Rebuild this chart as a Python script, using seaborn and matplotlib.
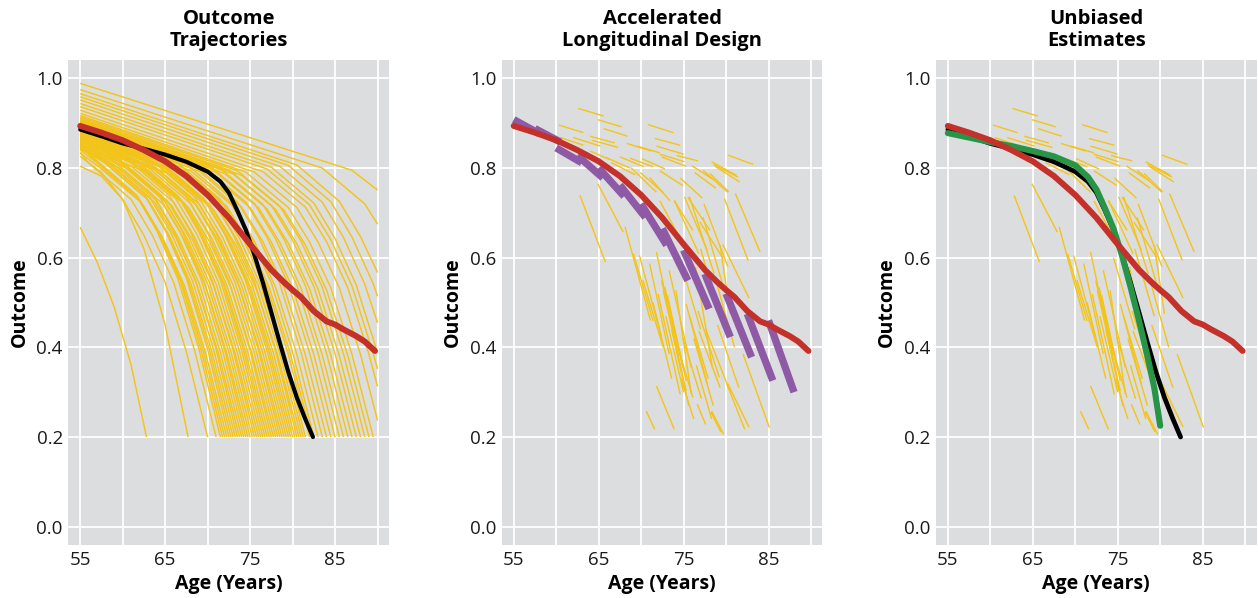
import numpy as np
import pandas as pd
import matplotlib
matplotlib.use("Agg")
import matplotlib.pyplot as plt
import seaborn as sns
from matplotlib.ticker import FixedLocator, FixedFormatter

# ---------------- data ----------------
panel_titles = ["Outcome\nTrajectories", "Accelerated\nLongitudinal Design", "Unbiased\nEstimates"]
x_label = "Age (Years)"
y_label = "Outcome"
x_tick_values = [55, 65, 75, 85]
x_minor_values = [60, 70, 80, 90]
y_tick_values = [0.0, 0.2, 0.4, 0.6, 0.8, 1.0]

# individual outcome trajectories (panel 1): (age, outcome) points per person
trajectories = [
    [(55, .668), (57, .590), (59, .490), (61, .360), (62.8, .2)],
    [(55, .804), (57.5, .782), (60, .730), (62.5, .620), (65, .450), (67.7, .2)],
    [(55, .826), (57.5, .790), (60, .730), (62.5, .650), (65, .545), (67.5, .390), (70, .2)],
    [(55, .835), (56, .811), (61, .730), (63.5, .650), (66, .545), (68.5, .391), (71, .2)],
    [(55, .852), (56.5, .824), (61.5, .742), (64, .661), (66.5, .553), (69, .395), (71.5, .2)],
    [(55, .847), (56.75, .818), (61.75, .737), (64.25, .656), (66.75, .550), (69.25, .393), (71.75, .2)],
    [(55, .840), (57, .811), (62, .729), (64.5, .650), (67, .544), (69.5, .391), (72, .2)],
    [(55, .833), (57.25, .802), (62.25, .722), (64.75, .643), (67.25, .539), (69.75, .388), (72.25, .2)],
    [(55, .858), (57.5, .825), (62.5, .743), (65, .662), (67.5, .554), (70, .396), (72.5, .2)],
    [(55, .850), (57.75, .815), (62.75, .734), (65.25, .654), (67.75, .548), (70.25, .392), (72.75, .2)],
    [(55, .845), (58, .810), (63, .729), (65.5, .649), (68, .544), (70.5, .390), (73, .2)],
    [(55, .851), (58.25, .814), (63.25, .733), (65.75, .653), (68.25, .547), (70.75, .392), (73.25, .2)],
    [(55, .862), (58.5, .823), (63.5, .741), (66, .660), (68.5, .553), (71, .395), (73.5, .2)],
    [(55, .843), (58.75, .804), (63.75, .724), (66.25, .645), (68.75, .540), (71.25, .388), (73.75, .2)],
    [(55, .848), (59, .807), (64, .727), (66.5, .647), (69, .543), (71.5, .389), (74, .2)],
    [(55, .864), (59.25, .821), (64.25, .739), (66.75, .658), (69.25, .551), (71.75, .394), (74.25, .2)],
    [(55, .866), (59.5, .822), (64.5, .740), (67, .659), (69.5, .552), (72, .395), (74.5, .2)],
    [(55, .844), (59.75, .799), (64.75, .720), (67.25, .641), (69.75, .538), (72.25, .387), (74.75, .2)],
    [(55, .852), (60, .806), (65, .725), (67.5, .646), (70, .542), (72.5, .389), (75, .2)],
    [(55, .855), (60.25, .808), (65.25, .727), (67.75, .648), (70.25, .543), (72.75, .390), (75.25, .2)],
    [(55, .870), (60.5, .820), (65.5, .739), (68, .658), (70.5, .551), (73, .394), (75.5, .2)],
    [(55, .847), (60.75, .797), (65.75, .717), (68.25, .639), (70.75, .536), (73.25, .386), (75.75, .2)],
    [(55, .856), (61, .804), (66, .724), (68.5, .645), (71, .541), (73.5, .388), (76, .2)],
    [(55, .866), (61.25, .813), (66.25, .732), (68.75, .652), (71.25, .546), (73.75, .391), (76.25, .2)],
    [(55, .874), (61.5, .819), (66.5, .738), (69, .657), (71.5, .550), (74, .394), (76.5, .2)],
    [(55, .870), (61.75, .814), (66.75, .732), (69.25, .652), (71.75, .547), (74.25, .392), (76.75, .2)],
    [(55, .860), (62, .803), (67, .723), (69.5, .644), (72, .540), (74.5, .388), (77, .2)],
    [(55, .860), (62.25, .802), (67.25, .722), (69.75, .643), (72.25, .539), (74.75, .388), (77.25, .2)],
    [(55, .878), (62.5, .817), (67.5, .736), (70, .655), (72.5, .549), (75, .393), (77.5, .2)],
    [(55, .852), (62.75, .791), (67.75, .712), (70.25, .635), (72.75, .533), (75.25, .384), (77.75, .2)],
    [(55, .864), (63, .801), (68, .721), (70.5, .643), (73, .539), (75.5, .387), (78, .2)],
    [(55, .874), (63.25, .810), (68.25, .729), (70.75, .649), (73.25, .544), (75.75, .390), (78.25, .2)],
    [(55, .882), (63.5, .816), (68.5, .735), (71, .655), (73.5, .548), (76, .393), (78.5, .2)],
    [(55, .863), (63.75, .796), (68.75, .716), (71.25, .638), (73.75, .535), (76.25, .385), (78.75, .2)],
    [(55, .868), (64, .800), (69, .720), (71.5, .642), (74, .538), (76.5, .387), (79, .2)],
    [(55, .875), (64.25, .805), (69.25, .725), (71.75, .646), (74.25, .541), (76.75, .389), (79.25, .2)],
    [(55, .886), (64.5, .814), (69.5, .733), (72, .653), (74.5, .547), (77, .392), (79.5, .2)],
    [(55, .878), (64.75, .806), (69.75, .725), (72.25, .646), (74.75, .542), (77.25, .389), (79.75, .2)],
    [(55, .872), (65, .798), (70, .719), (72.5, .641), (75, .537), (77.5, .386), (80, .2)],
    [(55, .874), (65.25, .799), (70.25, .719), (72.75, .641), (75.25, .538), (77.75, .387), (80.25, .2)],
    [(55, .890), (65.5, .814), (70.5, .732), (73, .652), (75.5, .547), (78, .392), (80.5, .2)],
    [(55, .862), (65.75, .785), (70.75, .706), (73.25, .630), (75.75, .529), (78.25, .382), (80.75, .2)],
    [(55, .876), (66, .797), (71, .717), (73.5, .639), (76, .536), (78.5, .386), (81, .2)],
    [(55, .882), (66.25, .802), (71.25, .722), (73.75, .643), (76.25, .539), (78.75, .388), (81.25, .2)],
    [(55, .893), (66.5, .811), (71.5, .730), (74, .650), (76.5, .545), (79, .391), (81.5, .2)],
    [(55, .880), (67, .796), (72, .716), (74.5, .638), (77, .535), (79.5, .385), (82, .2)],
    [(55, .880), (67.25, .794), (72.25, .715), (74.75, .637), (77.25, .534), (79.75, .385), (82.25, .2)],
    [(55, .896), (67.5, .809), (72.5, .728), (75, .649), (77.5, .544), (80, .390), (82.5, .2)],
    [(55, .884), (68, .794), (73, .715), (75.5, .637), (78, .534), (80.5, .385), (83, .2)],
    [(55, .899), (68.5, .806), (73.5, .725), (76, .646), (78.5, .542), (81, .389), (83.5, .2)],
    [(55, .888), (69, .793), (74, .713), (76.5, .636), (79, .534), (81.5, .384), (84, .2)],
    [(55, .902), (69.5, .804), (74.5, .724), (77, .645), (79.5, .541), (82, .388), (84.5, .2)],
    [(55, .892), (70, .791), (75, .712), (77.5, .635), (80, .533), (82.5, .384), (85, .2)],
    [(55, .905), (70.5, .801), (75.5, .721), (78, .642), (80.5, .539), (83, .387), (85.5, .2)],
    [(55, .896), (71, .790), (76, .711), (78.5, .634), (81, .532), (83.5, .383), (86, .2)],
    [(55, .908), (71.5, .799), (76.5, .719), (79, .641), (81.5, .538), (84, .387), (86.5, .2)],
    [(55, .900), (72, .788), (77, .709), (79.5, .632), (82, .531), (84.5, .383), (87, .2)],
    [(55, .911), (72.5, .796), (77.5, .717), (80, .639), (82.5, .536), (85, .386), (87.5, .2)],
    [(55, .904), (73, .787), (78, .708), (80.5, .631), (83, .530), (85.5, .382), (88, .2)],
    [(55, .914), (73.5, .794), (78.5, .715), (81, .637), (83.5, .534), (86, .385), (88.5, .2)],
    [(55, .907), (74, .784), (79, .706), (81.5, .629), (84, .528), (86.5, .382), (89, .2)],
    [(55, .917), (74.5, .791), (79.5, .712), (82, .635), (84.5, .533), (87, .384), (89.5, .2)],
    [(55, .922), (75.5, .791), (80.5, .712), (83, .635), (85.5, .533), (88, .384), (90, .237)],
    [(55, .929), (76.5, .792), (81.5, .713), (84, .636), (86.5, .533), (89, .384), (90, .313)],
    [(55, .937), (77, .798), (82, .718), (84.5, .640), (87, .537), (89.5, .386), (90, .352)],
    [(55, .944), (77.5, .802), (82.5, .722), (85, .643), (87.5, .539), (90, .388)],
    [(55, .952), (78.5, .804), (83.5, .724), (86, .645), (88.5, .541), (90, .455)],
    [(55, .959), (79.5, .806), (84.5, .725), (87, .646), (89.5, .542), (90, .514)],
    [(55, .966), (80.5, .807), (85.5, .726), (88, .647), (90, .567)],
    [(55, .975), (83.5, .800), (88.5, .720), (90, .675)],
    [(55, .989), (87, .795), (90, .751)],
]

# accelerated-design observation windows (panels 2 and 3): start age, start y, end age, end y
window_start_age = [62.6, 60.3, 64.9, 65.6, 70.8, 60.5, 62.0, 64.0, 64.2, 68.3, 69.5, 71.6, 71.8, 72.2,
                    74.2, 64.0, 67.5, 68.7, 70.1, 72.4, 78.3, 78.5, 78.7, 80.2,
                    65.8, 66.5, 67.7, 68.8, 69.9, 71.0, 72.2, 72.2, 73.9, 75.5, 74.6, 76.3, 77.3, 76.0, 78.1,
                    62.8, 64.9, 68.1, 69.8, 71.0, 71.8, 72.4, 72.8, 73.1, 73.3, 74.1, 71.8, 70.6, 76.6,
                    75.3, 75.7, 75.1, 76.8, 77.3, 76.4, 73.9, 74.1, 81.1, 77.4, 79.3, 82.0, 77.6, 80.1,
                    78.3, 79.8, 69.1, 72.0, 72.6, 75.7, 76.2, 74.9, 76.7, 79.6, 80.2, 78.2, 76.9,
                    70.2, 71.4, 72.9, 73.6, 74.5, 77.0, 78.8, 79.0, 76.5, 74.7]
window_start_val = [.933, .896, .908, .888, .897, .868, .868, .871, .862, .855, .849, .866, .849, .831,
                    .828, .838, .825, .822, .821, .825, .814, .808, .804, .829,
                    .824, .812, .779, .801, .790, .779, .794, .727, .727, .735, .778, .790, .795, .805, .788,
                    .739, .765, .669, .605, .587, .613, .549, .534, .516, .572, .527, .314, .258, .273,
                    .497, .736, .736, .437, .690, .579, .728, .415, .743, .720, .628, .385, .440, .318,
                    .258, .732, .609, .519, .527, .470, .420, .422, .481, .630, .319, .256, .680,
                    .550, .500, .470, .440, .600, .620, .550, .450, .360, .330]
window_end_age = [65.6, 63.2, 67.7, 68.4, 73.8, 63.2, 65.2, 66.9, 67.3, 71.2, 72.2, 74.6, 75.0, 75.1,
                  76.7, 66.3, 70.3, 71.4, 72.8, 75.3, 81.2, 81.4, 81.6, 83.2,
                  68.7, 69.3, 70.0, 71.8, 72.6, 73.4, 74.9, 74.3, 76.1, 78.1, 77.2, 78.8, 80.2, 78.6, 80.3,
                  65.8, 67.9, 71.1, 72.4, 73.3, 74.4, 74.7, 74.9, 75.3, 75.9, 75.9, 73.9, 71.6, 77.6,
                  77.8, 78.6, 77.8, 79.3, 79.6, 78.4, 76.8, 76.1, 84.0, 80.2, 80.5, 85.1, 80.5, 82.2,
                  79.7, 82.6, 71.4, 74.6, 75.3, 77.9, 78.5, 77.1, 79.2, 82.7, 82.7, 79.4, 79.6,
                  72.6, 73.6, 75.0, 75.6, 77.0, 79.3, 81.0, 81.5, 78.3, 76.2]
window_end_val = [.916, .879, .892, .871, .879, .851, .849, .856, .846, .838, .834, .851, .831, .814,
                  .816, .819, .803, .803, .798, .804, .784, .780, .769, .808,
                  .800, .785, .742, .746, .745, .727, .761, .653, .661, .661, .733, .755, .746, .773, .747,
                  .590, .657, .460, .422, .385, .381, .378, .355, .325, .355, .296, .217, .217, .228,
                  .318, .564, .616, .310, .540, .355, .609, .288, .613, .580, .475, .221, .300, .217,
                  .206, .594, .459, .295, .303, .330, .270, .285, .333, .510, .222, .211, .600,
                  .400, .330, .300, .270, .440, .470, .400, .310, .240, .240]

# cohort means of the accelerated design (purple)
cohort_start_age = [55.0, 57.5, 60.0, 62.5, 65.0, 67.5, 70.0, 72.5, 75.0, 77.5, 80.0, 82.5, 85.0]
cohort_start_val = [.908, .888, .845, .828, .800, .762, .720, .665, .617, .564, .520, .475, .460]
cohort_end_age = [58.0, 60.5, 63.0, 65.5, 68.0, 70.5, 73.0, 75.5, 78.0, 80.5, 83.0, 85.5, 88.0]
cohort_end_val = [.877, .858, .812, .778, .737, .690, .628, .549, .486, .423, .378, .326, .300]

# cross-sectional mean (red)
cross_age = [55, 57.5, 60, 62.5, 65, 67.5, 70, 72.5, 75, 77.5, 79, 80, 81, 82.5, 84, 85, 86, 87.5, 88.5, 89.7]
cross_val = [.894, .879, .862, .840, .815, .782, .740, .689, .630, .573, .545, .528, .512, .481, .458,
             .451, .440, .425, .413, .392]

# true mean trajectory (black)
true_age = [55, 57.5, 60, 62.5, 65, 67.5, 70, 71.5, 72.5, 73.5, 74.5, 75.5, 76.5, 77.5, 78.5, 79.5,
            80.5, 81.5, 82.4]
true_val = [.886, .871, .855, .843, .830, .814, .792, .770, .745, .705, .662, .607, .545, .478, .410,
            .345, .288, .240, .200]

# unbiased estimate from the accelerated design (green)
est_age = [55, 57.5, 60, 62.5, 65, 67.5, 70, 71.5, 72.5, 73.5, 74.5, 75.5, 76.5, 77.5, 78.5, 79.3, 80]
est_val = [.878, .868, .858, .849, .838, .826, .806, .780, .752, .710, .665, .605, .535, .460, .380,
           .310, .225]

# ---------------- styling ----------------
BG = "#DCDDDF"
YELLOW = "#F3C419"
RED = "#C4302A"
PURPLE = "#8E5AA6"
GREEN = "#279447"
BLACK = "#000000"

sns.set_theme(style="darkgrid", rc={"axes.facecolor": BG, "grid.color": "white"})
plt.rcParams['font.family'] = ['Open Sans', 'DejaVu Sans']

# ---------------- tidy frames ----------------
traj_rows = [(i, a, v) for i, pts in enumerate(trajectories) for a, v in pts]
traj_df = pd.DataFrame(traj_rows, columns=["id", "age", "outcome"])

win_rows = []
for i in range(len(window_start_age)):
    win_rows.append((i, window_start_age[i], window_start_val[i]))
    win_rows.append((i, window_end_age[i], window_end_val[i]))
win_df = pd.DataFrame(win_rows, columns=["id", "age", "outcome"])

coh_rows = []
for i in range(len(cohort_start_age)):
    coh_rows.append((i, cohort_start_age[i], cohort_start_val[i]))
    coh_rows.append((i, cohort_end_age[i], cohort_end_val[i]))
coh_df = pd.DataFrame(coh_rows, columns=["id", "age", "outcome"])

cross_df = pd.DataFrame({"age": cross_age, "outcome": cross_val})
true_df = pd.DataFrame({"age": true_age, "outcome": true_val})
est_df = pd.DataFrame({"age": est_age, "outcome": est_val})

# ---------------- figure ----------------
fig = plt.figure(figsize=(12.58, 5.98), dpi=100)
lefts = [0.0543, 0.3989, 0.7440]
axes = [fig.add_axes([l, 0.0886, 0.2549, 0.8110]) for l in lefts]


def draw_units(ax, df, color, lw, z):
    sns.lineplot(data=df, x="age", y="outcome", units="id", estimator=None, sort=False,
                 color=color, lw=lw, ax=ax, legend=False, zorder=z,
                 solid_capstyle="butt", solid_joinstyle="round")


def draw_line(ax, df, color, lw, z):
    sns.lineplot(data=df, x="age", y="outcome", sort=False, estimator=None,
                 color=color, lw=lw, ax=ax, legend=False, zorder=z,
                 solid_capstyle="round", solid_joinstyle="round")


# panel 1
draw_units(axes[0], traj_df, YELLOW, 1.05, 2)
draw_line(axes[0], true_df, BLACK, 3.0, 3)
draw_line(axes[0], cross_df, RED, 4.3, 4)

# panel 2
draw_units(axes[1], win_df, YELLOW, 1.0, 2)
draw_units(axes[1], coh_df, PURPLE, 5.3, 3)
draw_line(axes[1], cross_df, RED, 4.3, 4)

# panel 3
draw_units(axes[2], win_df, YELLOW, 1.0, 2)
draw_line(axes[2], true_df, BLACK, 3.4, 3)
draw_line(axes[2], est_df, GREEN, 4.4, 4)
draw_line(axes[2], cross_df, RED, 4.3, 5)

for ax, title in zip(axes, panel_titles):
    ax.set_facecolor(BG)
    ax.set_xlim(53.6, 91.35)
    ax.set_ylim(-0.041, 1.041)
    ax.xaxis.set_major_locator(FixedLocator(x_tick_values))
    ax.xaxis.set_minor_locator(FixedLocator(x_minor_values))
    ax.xaxis.set_major_formatter(FixedFormatter([str(v) for v in x_tick_values]))
    ax.yaxis.set_major_locator(FixedLocator(y_tick_values))
    ax.yaxis.set_major_formatter(FixedFormatter([f"{v:.1f}" for v in y_tick_values]))
    ax.grid(which="major", color="white", lw=1.3)
    ax.grid(which="minor", axis="x", color="white", lw=1.3)
    ax.tick_params(which="both", length=0, labelsize=13.5, colors="#1a1a1a")
    ax.tick_params(axis="x", pad=4)
    ax.tick_params(axis="y", pad=4)
    for s in ax.spines.values():
        s.set_visible(False)
    ax.set_axisbelow(True)
    ax.set_xlabel(x_label, fontsize=14, fontweight="bold", labelpad=4, color="black")
    ax.set_ylabel(y_label, fontsize=14, fontweight="bold", labelpad=5, color="black")
    ax.set_title(title, fontsize=14.5, fontweight="bold", pad=10, linespacing=1.12, color="black")

fig.savefig("out.png", dpi=100, facecolor="white")
